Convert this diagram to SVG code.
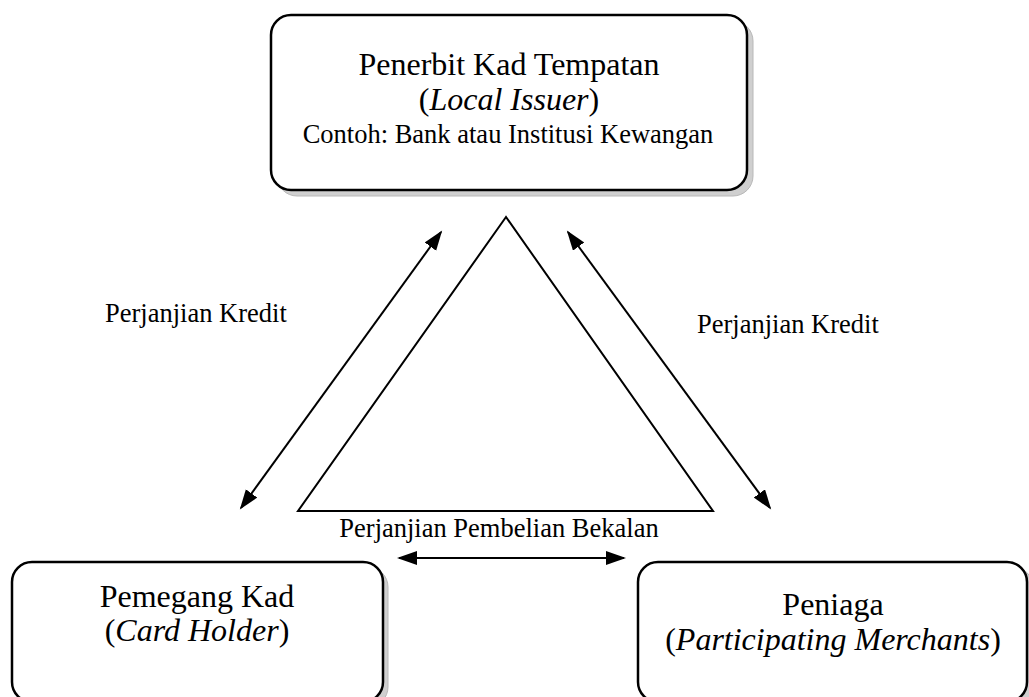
<svg xmlns="http://www.w3.org/2000/svg" width="1029" height="697" viewBox="0 0 1029 697">
<style>
.box{fill:#fff;stroke:#000;stroke-width:2.5}
.shadow{fill:#cfcfcf;stroke:#b8b8b8;stroke-width:1}
.t{font-family:"Liberation Serif","Times New Roman",serif;fill:#000;text-anchor:middle}
.big{font-size:32px}
.mid{font-size:26.5px}
.lbl{font-family:"Liberation Serif","Times New Roman",serif;fill:#000;font-size:26.5px}
.conn{stroke:#000;stroke-width:2;fill:none}
</style>
<defs>
<marker id="ah" markerUnits="userSpaceOnUse" markerWidth="22" markerHeight="16" refX="18" refY="7" orient="auto-start-reverse" viewBox="0 0 22 16">
<path d="M0,0 L20,7 L0,14 z" fill="#000"/>
</marker>
</defs>
<rect width="1029" height="697" fill="#fff"/>
<g id="issuer">
<rect class="shadow" x="277" y="21" width="476" height="175" rx="20"/>
<rect class="box" x="271" y="15" width="476" height="175" rx="20"/>
<text class="t big" x="509" y="75">Penerbit Kad Tempatan</text>
<text class="t big" x="509" y="110">(<tspan font-style="italic">Local Issuer</tspan>)</text>
<text class="t mid" x="508" y="143">Contoh: Bank atau Institusi Kewangan</text>
</g>
<g id="cardholder">
<rect class="shadow" x="17" y="567" width="371" height="140" rx="20"/>
<rect class="box" x="12" y="562" width="371" height="140" rx="20"/>
<text class="t big" x="197" y="607">Pemegang Kad</text>
<text class="t big" x="197" y="641">(<tspan font-style="italic">Card Holder</tspan>)</text>
</g>
<g id="merchant">
<rect class="shadow" x="643" y="567" width="390" height="140" rx="20"/>
<rect class="box" x="638" y="562" width="389" height="140" rx="20"/>
<text class="t big" x="833" y="615">Peniaga</text>
<text class="t big" x="833" y="650">(<tspan font-style="italic">Participating Merchants</tspan>)</text>
</g>
<g id="triangle">
<polygon points="506,217 298,511 713,511" fill="none" stroke="#000" stroke-width="2"/>
</g>
<g id="connectors">
<line class="conn" x1="441" y1="232" x2="241" y2="508" marker-start="url(#ah)" marker-end="url(#ah)"/>
<line class="conn" x1="568" y1="232" x2="770" y2="508" marker-start="url(#ah)" marker-end="url(#ah)"/>
<line class="conn" x1="399" y1="558" x2="624" y2="558" marker-start="url(#ah)" marker-end="url(#ah)"/>
</g>
<g id="labels">
<text class="lbl" x="105" y="322">Perjanjian Kredit</text>
<text class="lbl" x="697" y="333">Perjanjian Kredit</text>
<text class="lbl" x="499" y="537" text-anchor="middle">Perjanjian Pembelian Bekalan</text>
</g>
</svg>
